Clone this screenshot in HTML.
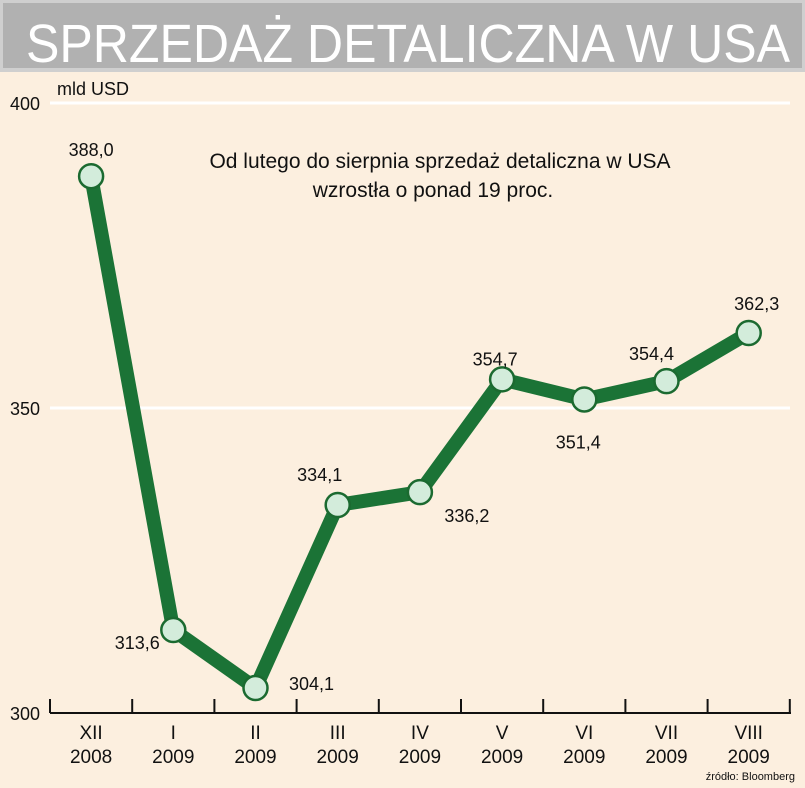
<!DOCTYPE html>
<html><head><meta charset="utf-8"><style>
body{margin:0;background:#fcefdf;}
svg{display:block;font-family:"Liberation Sans",sans-serif;}
</style></head><body>
<svg width="805" height="788" viewBox="0 0 805 788">
<rect x="0" y="0" width="805" height="788" fill="#fcefdf"/>
<rect x="0" y="0" width="805" height="72" fill="#cfcfcf"/>
<rect x="3" y="3" width="799" height="65" fill="#b1b1b1"/>
<text x="26" y="62" font-size="54" fill="#fff" textLength="764" lengthAdjust="spacingAndGlyphs">SPRZEDAŻ DETALICZNA W USA</text>
<text x="57" y="95" font-size="18" fill="#111">mld USD</text>
<text x="440" y="168" font-size="21" fill="#111" text-anchor="middle">Od lutego do sierpnia sprzedaż detaliczna w USA</text>
<text x="433" y="197" font-size="21" fill="#111" text-anchor="middle">wzrostła o ponad 19 proc.</text>
<g id="grid"></g>
<g id="axis"></g>
<g id="series"></g>
<text x="795" y="780" font-size="11" fill="#111" text-anchor="end">źródło: Bloomberg</text>
</svg>
<script>
const months = ["XII","I","II","III","IV","V","VI","VII","VIII"];
const years = ["2008","2009","2009","2009","2009","2009","2009","2009","2009"];
const values = [388.0,313.6,304.1,334.1,336.2,354.7,351.4,354.4,362.3];
const valueLabels = ["388,0","313,6","304,1","334,1","336,2","354,7","351,4","354,4","362,3"];
const yTicks = [300,350,400];
const NS="http://www.w3.org/2000/svg";
const labelDx=[0,-36,56,-18,47,-7,-6,-15,8];
const labelDy=[-26,13,-4,-30,24,-20,43,-27,-29];
const x0=50, step=82.2;
function xPos(i){return x0+step*(i+0.5);}
function yPos(v){return 713-(v-300)*6.1;}
function mk(tag,attrs,parent){const e=document.createElementNS(NS,tag);for(const k in attrs)e.setAttribute(k,attrs[k]);parent.appendChild(e);return e;}
const grid=document.getElementById('grid'),axis=document.getElementById('axis'),series=document.getElementById('series');
yTicks.forEach(t=>{
  if(t>300){const l=mk('line',{x1:50,x2:790,y1:yPos(t),y2:yPos(t),stroke:'#ffffff','stroke-width':3},grid);
  
  }
  const tx=mk('text',{x:40,y:yPos(t)+7,'font-size':18,fill:'#111','text-anchor':'end'},axis);
  tx.textContent=t;
  
  
});
const ax=mk('line',{x1:50,x2:791,y1:713,y2:713,stroke:'#111','stroke-width':2},axis);


for(let i=0;i<=months.length;i++){
  const tk=mk('line',{x1:x0+step*i,x2:x0+step*i,y1:699,y2:713,stroke:'#111','stroke-width':2},axis);
  
  
}
months.forEach((m,i)=>{
  const a=mk('text',{x:xPos(i),y:739,'font-size':19,fill:'#111','text-anchor':'middle'},axis);
  a.textContent=m;
  
  
  const b=mk('text',{x:xPos(i),y:763,'font-size':19,fill:'#111','text-anchor':'middle'},axis);
  b.textContent=years[i];
  
  
});
const pts=values.map((v,i)=>xPos(i)+','+yPos(v)).join(' ');
const pl=mk('polyline',{points:pts,fill:'none',stroke:'#1b7336','stroke-width':14,'stroke-linejoin':'miter'},series);


values.forEach((v,i)=>{
  const c=mk('circle',{cx:xPos(i),cy:yPos(v),r:12,fill:'#d3ecdb',stroke:'#1b6a30','stroke-width':2.5},series);
  
  
  const t=mk('text',{x:xPos(i)+labelDx[i],y:yPos(v)+labelDy[i]+6,'font-size':18,fill:'#111','text-anchor':'middle'},series);
  t.textContent=valueLabels[i];
  
  
});
</script>
</body></html>
